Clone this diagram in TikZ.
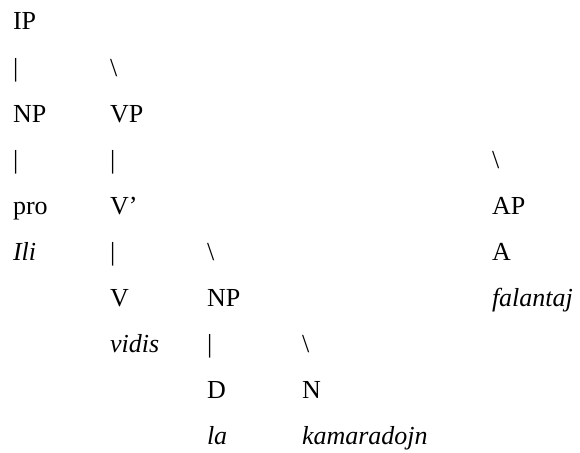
\documentclass[tikz,border=0pt]{standalone}
\usepackage{fontspec}
\setmainfont{Liberation Serif}
\begin{document}
\begin{tikzpicture}[x=1pt,y=1pt,
  lbl/.style={anchor=base west,inner sep=0pt,outer sep=0pt,font=\fontsize{26}{30}\selectfont},
  word/.style={lbl,font=\fontsize{26}{30}\selectfont\itshape}]
\path[use as bounding box,fill=white] (0,0) rectangle (580,-452);
% columns
\def\ca{13}\def\cb{110}\def\cc{207}\def\cd{302}\def\ce{492}
% row 1
\node[lbl] (ip) at (\ca,-30) {IP};
% row 2
\node[lbl] (b1) at (\ca,-76) {|};
\node[lbl] (s1) at (\cb,-76) {\textbackslash};
% row 3
\node[lbl] (np1) at (\ca,-122) {NP};
\node[lbl] (vp) at (\cb,-122) {VP};
% row 4
\node[lbl] (b2) at (\ca,-168) {|};
\node[lbl] (b3) at (\cb,-168) {|};
\node[lbl] (s2) at (\ce,-168) {\textbackslash};
% row 5
\node[lbl] (pro) at (\ca,-214) {pro};
\node[lbl] (vbar) at (\cb,-214) {V’};
\node[lbl] (ap) at (\ce,-214) {AP};
% row 6
\node[word] (ili) at (\ca,-260) {Ili};
\node[lbl] (b4) at (\cb,-260) {|};
\node[lbl] (s3) at (\cc,-260) {\textbackslash};
\node[lbl] (a) at (\ce,-260) {A};
% row 7
\node[lbl] (v) at (\cb,-306) {V};
\node[lbl] (np2) at (\cc,-306) {NP};
\node[word] (fal) at (\ce,-306) {falantaj};
% row 8
\node[word] (vid) at (\cb,-352) {vidis};
\node[lbl] (b5) at (\cc,-352) {|};
\node[lbl] (s4) at (\cd,-352) {\textbackslash};
% row 9
\node[lbl] (d) at (\cc,-398) {D};
\node[lbl] (n) at (\cd,-398) {N};
% row 10
\node[word] (la) at (\cc,-444) {la};
\node[word] (kam) at (\cd,-444) {kamaradojn};
\end{tikzpicture}
\end{document}
